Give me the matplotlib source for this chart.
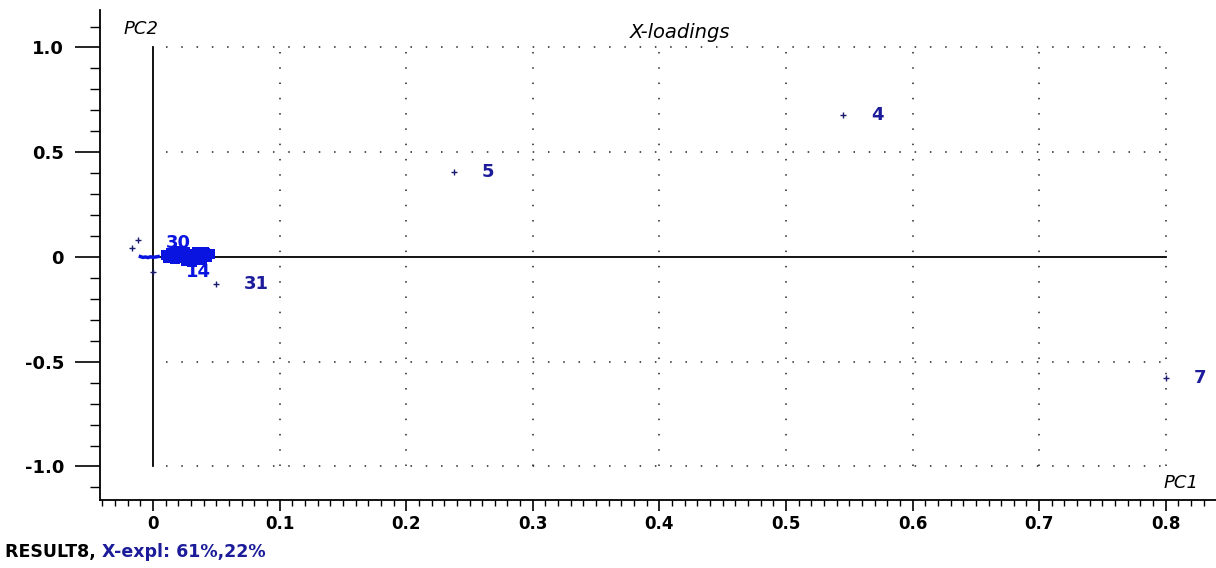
import matplotlib.pyplot as plt
import numpy as np
from matplotlib.ticker import MultipleLocator, FixedLocator

# X-loadings (PC1, PC2) of the labelled variables
labels = ['4', '5', '7', '31']
pc1 = [0.545, 0.238, 0.800, 0.050]
pc2 = [0.680, 0.405, -0.580, -0.128]

# labels readable inside the crowded cluster
clab = ['30', '14']
clab_x = [0.010, 0.026]
clab_y = [0.065, -0.072]

# crowded cluster of variables near the origin
clus_x = [0.010, 0.014, 0.016, 0.019, 0.021, 0.023, 0.025, 0.027, 0.029, 0.031, 0.033, 0.035,
          0.037, 0.039, 0.041, 0.043, 0.045, 0.026, 0.031, 0.036, 0.022, 0.017, 0.012, 0.040]
clus_y = [0.010, 0.020, 0.004, 0.028, 0.012, -0.004, 0.022, 0.006, -0.010, 0.016, 0.000, 0.024,
          0.008, -0.008, 0.018, 0.002, 0.012, -0.018, -0.022, -0.016, 0.030, -0.010, -0.004, 0.026]

# small points around the origin
near_x = [-0.017, -0.012, 0.000]
near_y = [0.043, 0.081, -0.070]
line_x = [-0.010, -0.008, -0.006, -0.004, -0.002, 0.000, 0.002, 0.004]
line_y = [0.002, -0.002, 0.000, -0.003, 0.001, -0.002, 0.000, 0.002]

xticks = [0, 0.1, 0.2, 0.3, 0.4, 0.5, 0.6, 0.7, 0.8]
xticklabels = ['0', '0.1', '0.2', '0.3', '0.4', '0.5', '0.6', '0.7', '0.8']
yticks = [-1.0, -0.5, 0, 0.5, 1.0]
yticklabels = ['-1.0', '-0.5', '0', '0.5', '1.0']

plt.rcParams['font.family'] = ['DejaVu Sans']

fig = plt.figure(figsize=(12.16, 5.68), dpi=100)
ax = fig.add_axes([100 / 1216, 1 - 500 / 568, 1 - 100 / 1216, 490 / 568])
ax.set_xlim(-0.0419, 0.8397)
ax.set_ylim(-1.16, 1.179)

for s in ['top', 'right']:
    ax.spines[s].set_visible(False)
ax.spines['left'].set_linewidth(1.3)
ax.spines['bottom'].set_linewidth(1.3)

# dotted grid
dot = (0, (1, 9))
for gx in xticks[1:]:
    ax.plot([gx, gx], [-1, 1], color='#222222', lw=1.1, ls=dot)
for gy in [-1.0, -0.5, 0.5, 1.0]:
    ax.plot([0.01, 0.8], [gy, gy], color='#222222', lw=1.1, ls=dot)

# axes through the origin
ax.plot([0, 0], [-1, 1], color='black', lw=1.3)
ax.plot([0, 0.8], [0, 0], color='black', lw=1.3)

navy = '#1c1c9a'
blue = '#0a14e0'

# points
ax.scatter(near_x, near_y, marker='+', s=16, color='#1a1a6e', lw=1, zorder=3)
ax.plot(line_x, line_y, color=blue, lw=2.5, zorder=3)
ax.scatter(clus_x, clus_y, marker='s', s=60, color=blue, lw=0, zorder=3)
ax.scatter(pc1, pc2, marker='+', s=16, color='#1a1a6e', lw=1, zorder=3)

for i, lab in enumerate(labels):
    ax.annotate(lab, (pc1[i], pc2[i]), xytext=(20, 0), textcoords='offset points',
                va='center', ha='left', color=navy, fontsize=13, fontweight='bold')
for i, lab in enumerate(clab):
    ax.text(clab_x[i], clab_y[i], lab, va='center', ha='left', color=blue,
            fontsize=13, fontweight='bold', zorder=4)

ax.xaxis.set_major_locator(FixedLocator(xticks))
ax.set_xticklabels(xticklabels)
ax.xaxis.set_minor_locator(MultipleLocator(0.01))
ax.yaxis.set_major_locator(FixedLocator(yticks))
ax.set_yticklabels(yticklabels)
ax.yaxis.set_minor_locator(MultipleLocator(0.1))

ax.tick_params(axis='x', which='major', direction='out', length=8, width=1.2, pad=3,
               labelsize=12)
ax.tick_params(axis='x', which='minor', direction='out', length=4, width=1)
ax.tick_params(axis='y', which='major', direction='out', length=18, width=1.2, pad=8,
               labelsize=13)
ax.tick_params(axis='y', which='minor', direction='out', length=7, width=1)
for t in ax.get_xticklabels() + ax.get_yticklabels():
    t.set_fontweight('bold')

# axis titles
ax.text(-0.023, 1.09, 'PC2', style='italic', fontsize=13, ha='left', va='center')
ax.text(0.8255, -1.08, 'PC1', style='italic', fontsize=13, ha='right', va='center')
ax.text(0.416, 1.07, 'X-loadings', style='italic', fontsize=14, ha='center', va='center')

# footer
t1 = fig.text(5 / 1216, 1 - 552 / 568, 'RESULT8, ', fontsize=12.5, fontweight='bold',
              color='black', va='center')
fig.canvas.draw()
bb = t1.get_window_extent()
fig.text(bb.x1 / fig.bbox.width, 1 - 552 / 568, 'X-expl: 61%,22%', fontsize=12.5,
         fontweight='bold', color=navy, va='center')

fig.savefig('out.png', dpi=100)
